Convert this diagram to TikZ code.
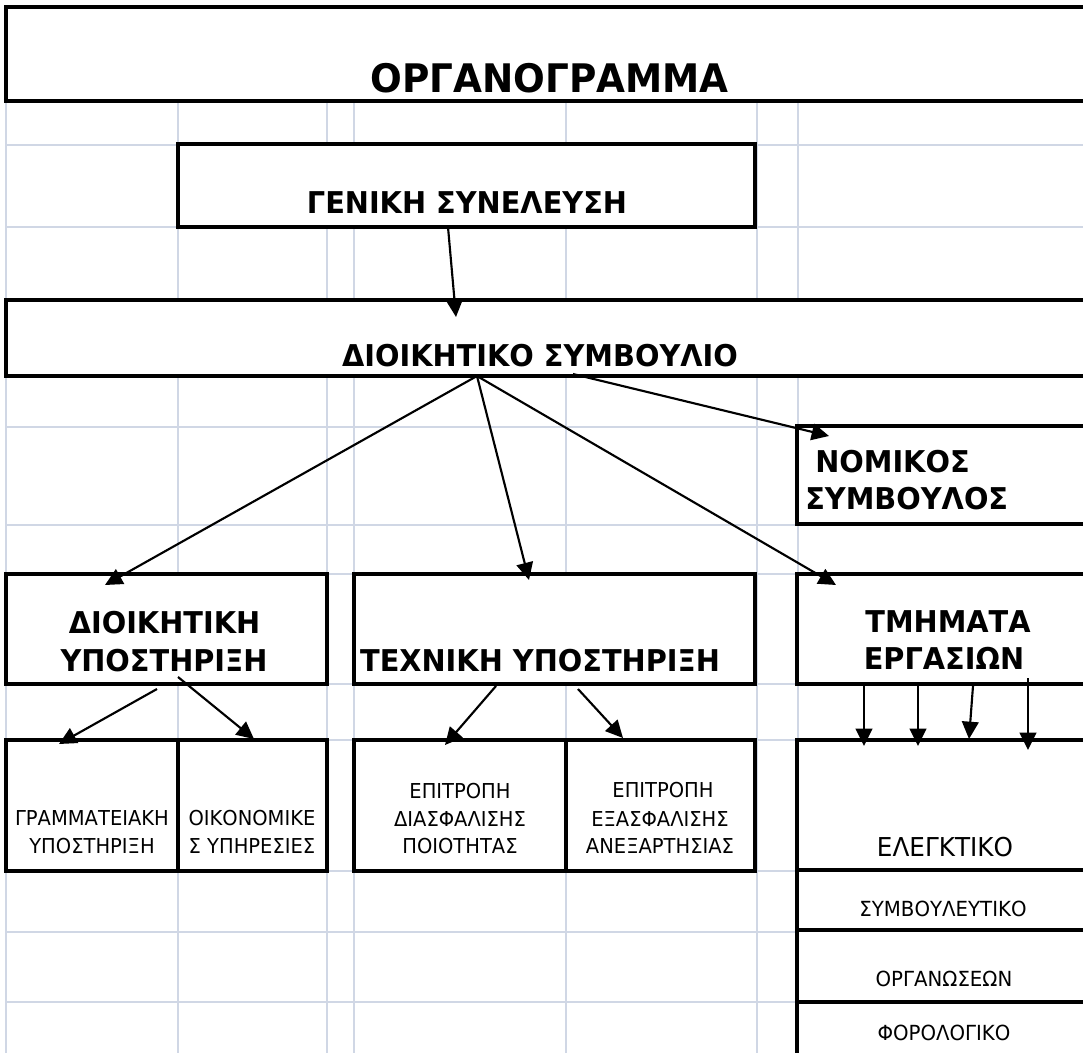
\documentclass[tikz,border=0pt]{standalone}
\usepackage{fontspec}
\setmainfont{DejaVu Sans}
\newfontfamily\rgfnt{DejaVu Sans}[FakeStretch=0.95]
\newfontfamily\ttlfnt{DejaVu Sans}[FakeStretch=0.95]
\newfontfamily\bdfnt{DejaVu Sans}[FakeStretch=0.96]
\usetikzlibrary{arrows.meta,fit}
\definecolor{gridc}{HTML}{D0D7E5}
\begin{document}
\begin{tikzpicture}[x=0.75pt,y=-0.75pt,
  box/.style={draw=black,line width=2.4pt,fill=white,inner sep=0pt,outer sep=0pt},
  arr/.style={line width=1.6pt,-{Triangle[length=13pt,width=12.5pt]}},
  bigtxt/.style={font=\bdfnt\bfseries\fontsize{22.5}{26}\selectfont,inner sep=0pt,anchor=base},
  smtxt/.style={font=\rgfnt\fontsize{15.4}{18}\selectfont,inner sep=0pt,anchor=base},
  midtxt/.style={font=\rgfnt\fontsize{15.6}{18}\selectfont,inner sep=0pt,anchor=base},
  gridline/.style={draw=gridc,line width=1.1pt}]
\useasboundingbox (0,0) rectangle (1083,1053);
\begin{scope}
\clip (0,0) rectangle (1083,1053);
% spreadsheet grid
\foreach \x in {6,178,327,354,566,757,798} \draw[gridline] (\x,7) -- (\x,1060);
\foreach \y in {101,145,227,300,376,427,525,574,684,740,871,932,1002} \draw[gridline] (6,\y) -- (1095,\y);
% boxes
\node[box, fit={(6,7) (1095,101)}] (title) {};
\node[box, fit={(178,144) (755,227)}] (gs) {};
\node[box, fit={(6,300) (1095,376)}] (ds) {};
\node[box, fit={(797,426) (1095,524)}] (nom) {};
\node[box, fit={(6,574) (327,684)}] (dioik) {};
\node[box, fit={(354,574) (755,684)}] (tech) {};
\node[box, fit={(797,574) (1095,684)}] (tmim) {};
\node[box, fit={(6,740) (178,871)}] (gram) {};
\node[box, fit={(178,740) (327,871)}] (oik) {};
\node[box, fit={(354,740) (566,871)}] (epd) {};
\node[box, fit={(566,740) (755,871)}] (epe) {};
\node[box, fit={(797,740) (1095,870)}] (eleg) {};
\node[box, fit={(797,870) (1095,930)}] (symv) {};
\node[box, fit={(797,930) (1095,1002)}] (org) {};
\node[box, fit={(797,1002) (1095,1075)}] (forol) {};
\end{scope}
% texts
\node[inner sep=0pt,anchor=base,font=\ttlfnt\bfseries\fontsize{29.5}{35}\selectfont] (ttltxt) at (549.5,92) {ΟΡΓΑΝΟΓΡΑΜΜΑ};
\node[bigtxt] (gstxt) at (467,213) {ΓΕΝΙΚΗ ΣΥΝΕΛΕΥΣΗ};
\node[bigtxt] (dstxt) at (540,366) {ΔΙΟΙΚΗΤΙΚΟ ΣΥΜΒΟΥΛΙΟ};
\node[bigtxt,anchor=base west] (nomtxta) at (815,472) {ΝΟΜΙΚΟΣ};
\node[bigtxt,anchor=base west] (nomtxtb) at (805,509) {ΣΥΜΒΟΥΛΟΣ};
\node[bigtxt] (dioiktxta) at (164.5,633) {ΔΙΟΙΚΗΤΙΚΗ};
\node[bigtxt] (dioiktxtb) at (164,671) {ΥΠΟΣΤΗΡΙΞΗ};
\node[bigtxt] (techtxt) at (540,671) {ΤΕΧΝΙΚΗ ΥΠΟΣΤΗΡΙΞΗ};
\node[bigtxt] (tmimtxta) at (948,632) {ΤΜΗΜΑΤΑ};
\node[bigtxt] (tmimtxtb) at (944,669) {ΕΡΓΑΣΙΩΝ};
\node[smtxt] (gramtxta) at (92,825) {ΓΡΑΜΜΑΤΕΙΑΚΗ};
\node[smtxt] (gramtxtb) at (92,853) {ΥΠΟΣΤΗΡΙΞΗ};
\node[smtxt] (oiktxta) at (252,825) {ΟΙΚΟΝΟΜΙΚΕ};
\node[smtxt] (oiktxtb) at (252,853) {Σ ΥΠΗΡΕΣΙΕΣ};
\node[smtxt] (epdtxta) at (460,798) {ΕΠΙΤΡΟΠΗ};
\node[smtxt] (epdtxtb) at (460,826) {ΔΙΑΣΦΑΛΙΣΗΣ};
\node[smtxt] (epdtxtc) at (460,853) {ΠΟΙΟΤΗΤΑΣ};
\node[smtxt] (epetxta) at (663,797) {ΕΠΙΤΡΟΠΗ};
\node[smtxt] (epetxtb) at (660,826) {ΕΞΑΣΦΑΛΙΣΗΣ};
\node[smtxt] (epetxtc) at (660,853) {ΑΝΕΞΑΡΤΗΣΙΑΣ};
\node[inner sep=0pt,anchor=base,font=\rgfnt\fontsize{19.5}{23}\selectfont] (elegtxt) at (945,856) {ΕΛΕΓΚΤΙΚΟ};
\node[midtxt] (symvtxt) at (943,916) {ΣΥΜΒΟΥΛΕΥΤΙΚΟ};
\node[midtxt] (orgtxt) at (944,986) {ΟΡΓΑΝΩΣΕΩΝ};
\node[midtxt] (foroltxt) at (944,1040) {ΦΟΡΟΛΟΓΙΚΟ};
% connector end points
\coordinate (gsA) at (448,227);   \coordinate (dsIn) at (456,317);
\coordinate (dsA) at (477,376);   \coordinate (dsB) at (573,374);
\coordinate (dioikIn) at (105,585); \coordinate (techIn) at (529,580);
\coordinate (tmimIn) at (836,585);  \coordinate (nomIn) at (829,436);
\coordinate (dioikA) at (157,689);  \coordinate (dioikB) at (178,677);
\coordinate (gramIn) at (59,744);   \coordinate (oikIn) at (254,739);
\coordinate (techA) at (496,686);   \coordinate (techB) at (578,689);
\coordinate (epdIn) at (445,745);   \coordinate (epeIn) at (623,738);
\coordinate (tmA) at (864,686); \coordinate (elA) at (864,746);
\coordinate (tmB) at (918,686); \coordinate (elB) at (918,746);
\coordinate (tmC) at (973,686); \coordinate (elC) at (969,739);
\coordinate (tmD) at (1028,678); \coordinate (elD) at (1028,750);
% connectors
\draw[arr] (gsA) -- (dsIn);
\draw[arr] (dsA) -- (dioikIn);
\draw[arr] (dsA) -- (techIn);
\draw[arr] (dsA) -- (tmimIn);
\draw[arr] (dsB) -- (nomIn);
\draw[arr] (dioikA) -- (gramIn);
\draw[arr] (dioikB) -- (oikIn);
\draw[arr] (techA) -- (epdIn);
\draw[arr] (techB) -- (epeIn);
\draw[arr] (tmA) -- (elA);
\draw[arr] (tmB) -- (elB);
\draw[arr] (tmC) -- (elC);
\draw[arr] (tmD) -- (elD);
\end{tikzpicture}
\end{document}
